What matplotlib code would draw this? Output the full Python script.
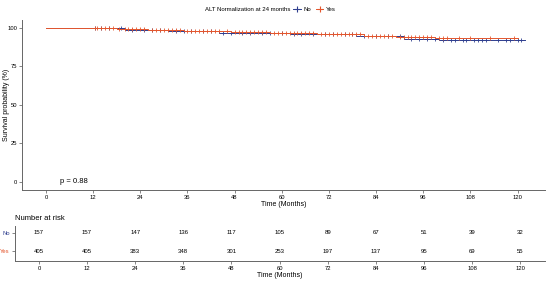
import matplotlib
matplotlib.use("Agg")
import matplotlib.pyplot as plt
from matplotlib.lines import Line2D
import numpy as np

plt.rcParams['font.family'] = ['Liberation Sans', 'DejaVu Sans']

groups = ["No", "Yes"]
colors = {"No": "#2f3f8f", "Yes": "#e4572e"}

# Kaplan-Meier steps (months, survival %)
no_times = [0, 20, 31, 44, 62, 79, 91, 100]
no_surv = [100, 98.8, 97.8, 97.0, 96.2, 94.6, 93.0, 92.0]
yes_times = [0, 18, 26, 35, 47, 57, 69, 81, 89, 99]
yes_surv = [100, 99.5, 98.9, 98.2, 97.5, 96.7, 95.9, 95.0, 94.1, 93.2]
end_time = {"No": 122, "Yes": 120}

# censoring marks (months)
no_censor = [12.5, 14, 16, 19, 22, 25, 27, 29, 33, 35, 37, 40, 42, 45, 47, 50, 52,
             55, 57, 60, 63, 65, 68, 71, 73, 76, 78, 81, 84, 87, 90, 93, 95, 97,
             99, 101, 103, 104, 106, 107, 109, 110, 111, 112, 115, 117, 118, 120, 121]
yes_censor = [12.5, 13, 14, 15, 16, 17, 18.5, 20, 21, 22, 23, 24, 25, 27, 28, 29,
              30, 31, 32, 33, 34, 36, 37, 38, 39, 40, 41, 42, 43, 44, 46, 48, 49,
              50, 51, 52, 53, 54, 55, 56, 58, 59, 60, 61, 62, 63, 64, 65, 66, 67,
              68, 70, 71, 72, 73, 74, 75, 76, 77, 78, 79, 80, 82, 83, 84, 85, 86,
              87, 88, 90, 91, 92, 93, 94, 95, 96, 97, 98, 100, 101, 102, 105, 108,
              113, 119]

risk_times = [0, 12, 24, 36, 48, 60, 72, 84, 96, 108, 120]
risk_no = [157, 157, 147, 136, 117, 105, 89, 67, 51, 39, 32]
risk_yes = [405, 405, 383, 348, 301, 253, 197, 137, 95, 69, 55]

p_text = "p = 0.88"
legend_title = "ALT Normalization at 24 months"


def surv_at(times, surv, t):
    idx = np.searchsorted(times, t, side="right") - 1
    return surv[idx]


def style_axes(a):
    a.tick_params(labelsize=4.2, length=2, width=0.5, color="#555555", pad=1.5)
    for sp in ["top", "right"]:
        a.spines[sp].set_visible(False)
    for sp in ["left", "bottom"]:
        a.spines[sp].set_color("#666666")
        a.spines[sp].set_linewidth(0.7)


fig = plt.figure(figsize=(5.5, 2.81), dpi=100)
ax = fig.add_axes([0.04, 0.324, 0.951, 0.605])

curves = {"No": (no_times, no_surv, no_censor), "Yes": (yes_times, yes_surv, yes_censor)}
for g in groups:
    t, s, c = curves[g]
    tt = list(t) + [end_time[g]]
    ss = list(s) + [s[-1]]
    ax.step(tt, ss, where="post", color=colors[g], lw=0.7)
    cs = [surv_at(t, s, x) for x in c]
    ax.plot(c, cs, ls="none", marker="+", ms=3.5, mew=0.6, color=colors[g])

ax.set_xlim(-6.1, 127)
ax.set_ylim(-5.2, 105.2)
ax.set_xticks(risk_times)
ax.set_yticks([0, 25, 50, 75, 100])
style_axes(ax)
ax.set_xlabel("Time (Months)", fontsize=5, labelpad=1)
fig.text(0.011, 0.626, "Survival probability (%)", fontsize=5, rotation=90,
         ha="center", va="center")
ax.text(3.5, 0, p_text, fontsize=5.5, va="center", ha="left")

# legend on top
fig.text(0.528, 0.965, legend_title, fontsize=4.3, ha="right", va="center")
handles = [Line2D([], [], color=colors[g], marker="+", ms=4, mew=0.8, lw=0.7) for g in groups]
fig.legend(handles, groups, loc="center left", bbox_to_anchor=(0.528, 0.965), ncol=2,
           fontsize=4.3, frameon=False, handlelength=1.2, handletextpad=0.5,
           columnspacing=0.8, borderpad=0)

# risk table
rt = fig.add_axes([0.027, 0.071, 0.964, 0.125])
for i, (g, vals) in enumerate([("Yes", risk_yes), ("No", risk_no)]):
    for x, v in zip(risk_times, vals):
        rt.text(x, i, str(v), fontsize=4.3, ha="center", va="center")
rt.set_xlim(-6, 126.2)
rt.set_ylim(-0.55, 1.39)
rt.set_xticks(risk_times)
rt.set_yticks([0, 1])
rt.set_yticklabels(["Yes", "No"])
for lbl, g in zip(rt.get_yticklabels(), ["Yes", "No"]):
    lbl.set_color(colors[g])
style_axes(rt)
rt.set_xlabel("Time (Months)", fontsize=5, labelpad=1)
rt.set_title("Number at risk", fontsize=5.5, loc="left", x=0.0, pad=4)

fig.savefig("out.png", dpi=100)
